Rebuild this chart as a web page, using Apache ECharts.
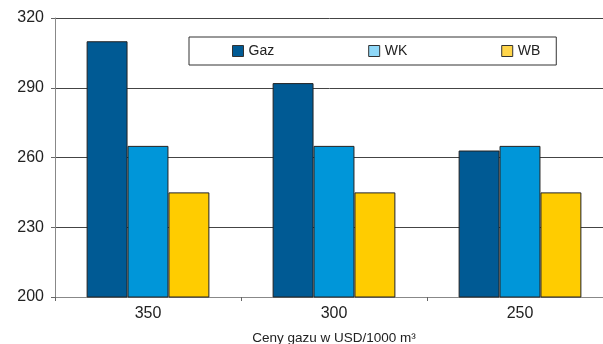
<!DOCTYPE html>
<html>
<head>
<meta charset="utf-8">
<script src="https://cdn.jsdelivr.net/npm/echarts@6/dist/echarts.min.js"></script>
<style>
  html, body { margin: 0; padding: 0; background: #fff; }
  #chart { width: 603px; height: 344px; }
</style>
</head>
<body>
<div id="chart"></div>
<script>
const categories = ['350', '300', '250'];
const gaz = [310, 292, 263];
const wk = [265, 265, 265];
const wb = [245, 245, 245];
const seriesNames = ['Gaz', 'WK', 'WB'];

const barColors = ['#005a94', '#0096d9', '#ffcc00'];
const legendColors = ['#005a94', '#8fd8f8', '#ffd54a'];

const chart = echarts.init(document.getElementById('chart'));

function barSeries(name, data, i) {
    return {
        name: name,
        type: 'bar',
        data: data,
        barGap: 0,
        barCategoryGap: '34%',
        itemStyle: { color: barColors[i], borderColor: '#222', borderWidth: 1 }
    };
}

const option = {
    animation: false,
    textStyle: { fontFamily: 'Liberation Sans, Arial, sans-serif' },
    grid: { left: 55, top: 18, width: 558, height: 279, outerBoundsMode: 'none' },
    legend: {
        left: 189, top: 37,
        itemGap: 94,
        padding: [7, 16, 7, 43],
        borderColor: '#333', borderWidth: 1,
        icon: 'rect',
        itemWidth: 11, itemHeight: 11,
        textStyle: { fontSize: 14, color: '#222' },
        data: seriesNames.map((n, i) => ({
            name: n,
            itemStyle: { color: legendColors[i], borderColor: '#333', borderWidth: 1 }
        }))
    },
    xAxis: {
        type: 'category',
        data: categories,
        name: 'Ceny gazu w USD/1000 m³',
        nameLocation: 'middle',
        nameGap: 34,
        nameTextStyle: { fontSize: 13.5, color: '#222' },
        axisLine: { lineStyle: { color: '#888', width: 1 } },
        axisTick: { show: true, length: 4, lineStyle: { color: '#666' } },
        axisLabel: { fontSize: 16, color: '#222', margin: 9 }
    },
    yAxis: {
        type: 'value',
        min: 200, max: 320, interval: 30,
        axisLine: { show: true, lineStyle: { color: '#888' } },
        axisTick: { show: true, length: 4, lineStyle: { color: '#666' } },
        axisLabel: { fontSize: 16, color: '#222', margin: 11 },
        splitLine: { lineStyle: { color: '#444', width: 1 } }
    },
    series: [
        barSeries('Gaz', gaz, 0),
        barSeries('WK', wk, 1),
        barSeries('WB', wb, 2)
    ]
};

chart.setOption(option);
</script>
</body>
</html>
